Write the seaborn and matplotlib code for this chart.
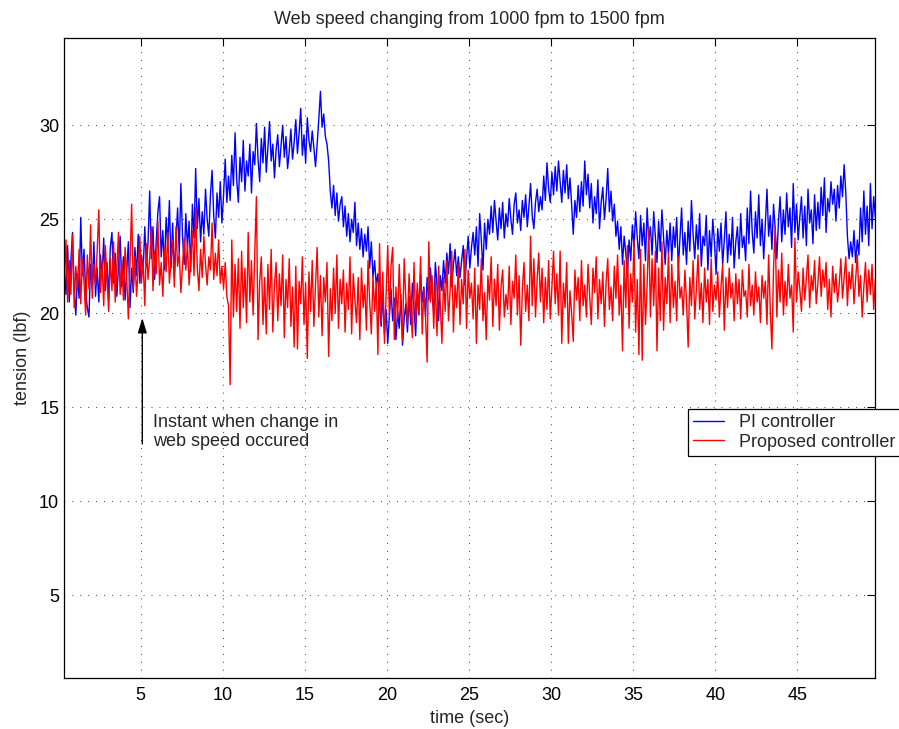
import numpy as np
import pandas as pd
import matplotlib
matplotlib.use('Agg')
import matplotlib.pyplot as plt
import seaborn as sns

# sampling of the recorded tension (sec)
T0 = 0.35
DT = 0.1

# tension (lbf), one row per second
pi_tension = [
    22.4, 21.0, 23.6, 20.6, 22.8, 24.3, 21.2, 19.9, 22.1, 20.8,
    25.1, 22.0, 23.4, 21.1, 20.3, 19.8, 22.6, 21.3, 23.8, 20.9,
    22.4, 20.6, 23.1, 21.9, 24.0, 21.2, 22.7, 20.8, 23.5, 24.3,
    21.6, 23.2, 20.9, 22.5, 24.1, 21.4, 23.0, 20.7, 22.3, 23.8,
    20.3, 22.4, 21.1, 23.5, 22.0, 24.2, 21.6, 23.1, 22.2, 24.6,
    22.5, 23.8, 26.5, 22.9, 24.6, 21.8, 23.9, 25.4, 26.2, 23.0,
    24.4, 22.3, 25.1, 23.6, 26.0, 22.4, 24.8, 21.9, 23.9, 25.6,
    23.2, 26.9, 24.1, 22.6, 25.3, 23.5, 24.9, 22.2, 25.8, 24.0,
    27.7, 24.5, 26.1, 23.8, 25.4, 24.2, 26.6, 25.0, 24.1, 26.3,
    27.6, 25.2, 24.0, 26.4, 25.1, 27.0, 24.8, 26.3, 28.2, 25.9,
    27.3, 26.0, 28.4, 26.8, 29.6, 27.1, 25.9, 28.3, 27.0, 29.2,
    26.5, 28.1, 27.3, 29.0, 26.4, 28.6, 27.9, 30.1, 28.2, 27.0,
    29.3, 28.0, 29.9, 27.5, 28.8, 30.2, 28.1, 29.0, 27.2, 28.7,
    29.5, 27.8, 28.9, 30.0, 28.3, 29.4, 27.7, 28.6, 29.8, 28.2,
    29.1, 30.3, 28.5, 29.6, 30.9, 28.4, 29.5, 28.0, 30.4, 29.2,
    28.6, 29.7, 28.8, 27.8, 29.0, 30.3, 31.8, 29.9, 30.6, 29.4,
    29.0, 28.1, 26.5, 25.6, 26.8, 25.2, 26.4, 24.9, 25.8, 26.2,
    24.6, 25.7, 24.1, 25.3, 23.8, 25.0, 24.3, 25.9, 23.6, 24.8,
    23.4, 24.5, 23.0, 24.2, 23.3, 24.6, 22.4, 23.8, 21.9, 22.8,
    21.5, 22.1, 20.4, 19.3, 21.0, 18.9, 20.2, 18.4, 19.9, 21.3,
    19.6, 20.8, 18.6, 20.1, 19.2, 21.0, 18.3, 19.7, 20.5, 19.0,
    20.9, 19.4, 21.6, 20.3, 18.8, 21.2, 19.9, 22.1, 20.6, 21.4,
    19.8, 21.9, 20.7, 22.4, 21.1, 20.0, 22.7, 21.5, 19.6, 22.0,
    21.2, 22.8, 21.6, 23.2, 22.1, 23.7, 21.4, 22.6, 23.4, 22.0,
    23.0, 21.9, 22.8, 23.6, 21.5, 22.9, 24.1, 22.4, 23.5, 24.3,
    23.1, 24.6, 22.5, 25.3, 23.9, 22.3, 24.8, 23.4, 25.0, 24.2,
    25.7, 24.3, 26.0, 24.9, 23.9, 25.6, 24.5, 25.9, 24.0, 25.3,
    24.6, 26.1, 25.0, 24.2, 25.8, 26.4, 24.8, 25.5, 24.4, 26.0,
    25.1, 26.3, 24.6, 25.7, 26.9, 25.2, 24.5, 25.9, 26.6, 25.4,
    26.2, 25.5, 27.3, 26.0, 28.0, 26.6, 25.9, 27.5, 26.3, 27.8,
    26.5, 28.1, 27.0, 25.9, 27.6, 26.4, 27.9, 26.1, 27.2, 25.8,
    24.2, 26.0, 25.1, 26.8, 25.4, 27.0, 25.7, 28.1, 26.3, 27.4,
    25.6, 26.9, 24.8, 26.2, 25.3, 27.1, 24.5, 25.9, 26.7, 25.0,
    26.1, 27.7, 25.4, 26.5, 24.9, 25.8, 24.1, 24.9, 23.4, 24.6,
    22.6, 24.1, 23.2, 22.2, 23.9, 22.8, 24.7, 23.5, 25.4, 24.0,
    22.9, 25.2, 23.6, 24.8, 22.8, 25.6, 23.9, 24.6, 23.1, 25.4,
    24.1, 22.7, 24.9, 23.3, 25.5, 24.0, 22.6, 24.4, 23.2, 24.8,
    22.8, 24.6, 23.5, 25.1, 22.4, 24.0, 25.6, 23.1, 24.3, 22.6,
    24.9, 23.3, 26.0, 24.2, 22.9, 24.7, 23.4, 25.3, 22.5, 24.1,
    23.6, 25.2, 22.3, 24.4, 23.0, 25.0, 23.8, 22.1, 24.5, 23.3,
    24.8, 22.6, 23.9, 25.4, 22.7, 24.2, 23.1, 25.1, 22.4, 23.8,
    24.6, 22.9, 25.3, 23.5, 24.1, 22.8, 25.6, 23.7, 26.5, 24.3,
    23.2, 25.4, 24.0, 26.3, 23.6, 25.0, 22.9, 24.8, 26.6, 24.1,
    25.2, 23.4, 25.8, 24.5, 22.9, 24.9, 26.2, 23.8, 25.5, 24.2,
    26.4, 24.6, 25.6, 23.5, 26.9, 24.3, 25.8, 23.9, 25.1, 26.2,
    24.0, 25.7, 23.6, 26.6, 24.8, 25.5, 23.7, 26.3, 24.4, 25.9,
    24.5, 26.7, 25.2, 27.2, 24.3, 26.1, 25.4, 27.0, 25.8, 26.6,
    24.9, 26.8, 25.6, 27.3, 26.2, 27.9, 26.4, 24.1, 22.9, 23.8,
    23.0, 24.4, 22.7, 23.9, 23.1, 25.6, 23.8, 26.5, 24.2, 25.7,
    23.6, 26.9, 24.5, 26.2, 25.1,
]

proposed_tension = [
    21.4, 23.9, 20.6, 22.8, 21.0, 24.2, 20.3, 22.5, 21.2, 23.4,
    20.5, 22.9, 21.6, 19.9, 23.1, 21.3, 24.7, 20.8, 22.6, 21.5,
    23.3, 25.5, 21.1, 22.7, 20.4, 23.6, 21.8, 20.1, 22.9, 21.2,
    23.8, 20.6, 22.4, 24.3, 21.0, 22.8, 20.7, 23.5, 21.9, 19.7,
    22.6, 25.8, 21.3, 23.0, 20.9, 22.4, 24.1, 21.6, 22.8, 20.4,
    23.7, 21.8, 22.9, 24.6, 21.2, 23.3, 22.1, 24.9, 21.5, 22.7,
    20.9, 23.5, 22.2, 24.3, 21.6, 22.8, 23.9, 21.4, 24.6, 22.5,
    23.2, 21.1, 22.6, 24.0, 22.3, 23.7, 21.5, 22.9, 24.4, 22.0,
    25.6, 22.4, 21.2, 23.4, 21.9, 24.1, 22.6, 21.5, 23.0, 22.3,
    24.8, 21.8, 23.2, 22.0, 23.9, 21.6, 22.5, 21.3, 22.7, 20.9,
    20.4, 16.2, 23.9, 19.8, 22.6, 20.1, 22.9, 19.2, 23.3, 20.3,
    22.4, 19.5, 24.3, 20.6, 22.8, 19.9, 23.2, 26.2, 18.6, 21.7,
    23.0, 19.4, 21.9, 18.9, 22.6, 20.2, 23.4, 19.0, 21.5, 22.7,
    19.6, 22.1, 20.4, 23.1, 18.7, 21.8, 20.3, 22.9, 19.3, 21.4,
    18.2, 22.5, 18.1, 21.7, 20.5, 23.0, 19.4, 21.6, 17.6, 22.2,
    20.1, 22.8, 19.3, 21.5, 23.5, 19.8, 22.0, 18.8, 21.9, 20.6,
    22.7, 17.7, 21.3, 19.6, 22.4, 20.0, 23.1, 19.2, 21.8, 20.5,
    22.3, 19.0, 21.6, 20.2, 23.0, 18.9, 22.1, 20.7, 19.5, 21.9,
    18.6, 22.4, 20.3, 21.5, 19.1, 22.8, 20.6, 18.9, 22.0, 20.1,
    21.7, 17.8, 23.7, 19.5, 22.2, 18.4, 21.0, 23.6, 19.8, 22.5,
    23.5, 18.6, 21.4, 19.7, 22.6, 20.2, 18.5, 22.9, 20.8, 19.4,
    22.1, 20.3, 18.7, 22.7, 19.5, 21.6, 20.0, 23.0, 18.9, 21.3,
    19.9, 17.4, 23.8, 20.6, 22.0, 19.2, 21.7, 18.8, 22.5, 20.4,
    18.4, 21.9, 20.1, 22.8, 19.6, 21.2, 23.3, 19.0, 21.5, 20.3,
    22.6, 19.4, 21.8, 20.5, 23.4, 19.2, 22.3, 20.8, 21.6, 19.7,
    22.4, 18.4, 21.5, 20.2, 22.9, 19.6, 21.1, 18.6, 22.0, 20.7,
    23.0, 19.3, 21.8, 20.4, 22.6, 19.1, 21.4, 22.3, 19.8, 21.0,
    20.2, 22.5, 19.4, 21.7, 20.8, 23.1, 19.9, 22.0, 18.3, 21.3,
    22.7, 20.1, 21.5, 19.6, 24.1, 20.4, 22.9, 19.8, 21.8, 23.2,
    20.6, 22.4, 19.5, 21.9, 20.2, 22.8, 19.7, 21.4, 23.3, 20.5,
    22.1, 19.9, 23.3, 18.4, 21.6, 20.3, 22.7, 18.4, 21.2, 20.0,
    18.5, 22.3, 20.7, 21.9, 19.6, 22.8, 20.4, 21.5, 19.8, 22.6,
    20.9, 19.4, 22.4, 21.1, 23.0, 19.7, 21.8, 20.5, 22.2, 19.3,
    21.6, 22.9, 20.2, 21.4, 19.6, 22.5, 20.8, 23.1, 19.9, 21.5,
    18.0, 22.8, 20.3, 23.6, 19.2, 22.1, 20.6, 23.9, 19.0, 21.8,
    17.8, 23.4, 17.5, 22.6, 19.4, 21.5, 24.5, 19.8, 22.9, 20.4,
    23.3, 18.0, 22.4, 19.6, 23.8, 19.1, 21.9, 20.5, 23.2, 19.5,
    22.6, 20.3, 21.7, 19.6, 23.0, 20.8, 21.4, 19.9, 22.3, 20.6,
    18.2, 21.9, 20.4, 22.8, 19.7, 21.3, 23.1, 20.2, 21.6, 19.5,
    22.4, 20.6, 21.8, 19.4, 22.9, 20.1, 21.5, 20.7, 22.2, 19.8,
    21.4, 22.6, 19.1, 21.9, 20.3, 22.4, 20.8, 21.6, 19.6, 22.1,
    20.5, 21.8, 19.7, 22.3, 20.9, 21.2, 19.8, 22.6, 20.4, 21.5,
    19.9, 22.2, 20.6, 21.4, 19.5, 22.0, 20.8, 21.7, 19.4, 23.1,
    20.2, 18.1, 22.4, 24.6, 19.8, 22.3, 20.6, 23.2, 19.9, 21.7,
    20.4, 22.6, 20.8, 21.5, 19.0, 24.0, 20.6, 22.2, 21.3, 20.1,
    22.4, 20.7, 21.9, 23.1, 20.3, 22.0, 21.2, 22.8, 20.5, 21.6,
    23.0, 20.9, 22.3, 21.4, 22.7, 20.2, 21.8, 19.8, 22.5, 21.1,
    22.1, 20.6, 21.5, 22.9, 20.8, 21.9, 23.0, 20.4, 22.2, 21.3,
    22.6, 20.5, 21.8, 23.1, 20.9, 22.0, 19.8, 21.4, 22.7, 20.6,
    22.3, 21.0, 22.6, 20.2, 21.8,
]

series_labels = ['PI controller', 'Proposed controller']
series_colors = ['#0000ff', '#ff0000']
xticks = [5, 10, 15, 20, 25, 30, 35, 40, 45]
yticks = [5, 10, 15, 20, 25, 30]

n = min(len(pi_tension), len(proposed_tension))
time = T0 + DT * np.arange(n)
df = pd.DataFrame({'time': time,
                   series_labels[0]: pi_tension[:n],
                   series_labels[1]: proposed_tension[:n]})

sns.set_style('white')
plt.rcParams['font.family'] = ['Liberation Sans', 'DejaVu Sans']
plt.rcParams['font.size'] = 13

W, H = 899, 729
fig = plt.figure(figsize=(W / 100, H / 100), dpi=100)
ax = fig.add_axes([64 / W, 1 - 677.5 / H, (875 - 64) / W, (677.5 - 37.7) / H])

for lab, col in zip(series_labels, series_colors):
    sns.lineplot(data=df, x='time', y=lab, color=col, linewidth=1.0,
                 label=lab, ax=ax)

ax.set_xlim(0.33, 49.73)
ax.set_ylim(0.62, 34.66)
ax.set_xticks(xticks)
ax.set_yticks(yticks)
ax.tick_params(direction='in', top=True, right=True, length=6, width=0.8,
               labelsize=13, colors='black')
ax.tick_params(axis='x', pad=7)
ax.tick_params(axis='y', pad=3.5)
ax.grid(True, color='black', linestyle=(0, (1, 8.5)), linewidth=0.6)
for sp in ax.spines.values():
    sp.set_visible(True)
    sp.set_color('black')
    sp.set_linewidth(0.9)

ax.set_title('Web speed changing from 1000 fpm to 1500 fpm', fontsize=13, pad=10)
ax.set_xlabel('time (sec)', fontsize=13, labelpad=4)
ax.set_ylabel('tension (lbf)', fontsize=13, labelpad=6)

ax.annotate('', xy=(5.1, 19.9), xytext=(5.1, 12.9),
            arrowprops=dict(arrowstyle='-|>,head_length=0.6,head_width=0.18',
                            color='black', lw=1, mutation_scale=15))
ax.text(5.75, 14.65, 'Instant when change in\nweb speed occured',
        va='top', ha='left', fontsize=13, linespacing=1.2)

handles, labels = ax.get_legend_handles_labels()
leg = ax.legend(handles, labels, loc='upper left',
                bbox_to_anchor=(688 / W, 1 - 409 / H), bbox_transform=fig.transFigure,
                fontsize=13, frameon=True, fancybox=False, framealpha=1,
                edgecolor='black', borderpad=0.3, labelspacing=0.12,
                handlelength=1.7, handletextpad=0.8, borderaxespad=0)
leg.get_frame().set_linewidth(0.9)

fig.savefig('out.png', dpi=100)
